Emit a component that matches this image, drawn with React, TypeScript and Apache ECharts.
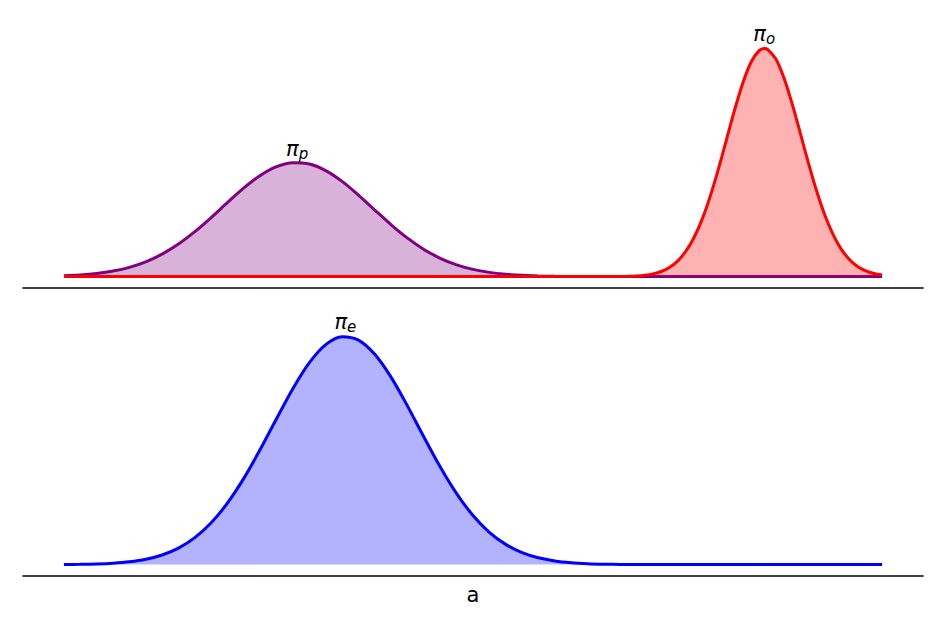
import React, { useEffect, useRef } from "react";
import * as echarts from "echarts";

const xs = [0,0.2,0.4,0.6,0.8,1,1.2,1.4,1.6,1.8,2,2.2,2.4,2.6,2.8,3,3.2,3.4,3.6,3.8,4,4.2,4.4,4.6,4.8,5,5.2,5.4,5.6,5.8,6,6.2,6.4,6.6,6.8,7,7.2,7.4,7.6,7.8,8,8.2,8.4,8.6,8.8,9,9.2,9.4,9.6,9.8,10];

const piP = [0.0039,0.0075,0.0139,0.0243,0.0406,0.0648,0.0984,0.1424,0.1967,0.2588,0.3248,0.3885,0.4431,0.4817,0.4993,0.4933,0.4647,0.4174,0.3573,0.2917,0.2270,0.1684,0.1191,0.0803,0.0516,0.0316,0.0185,0.0103,0.0055,0.0028,0.0013,0.0006,0.0003,0.0001,0,0,0,0,0,0,0,0,0,0,0,0,0,0,0,0,0];

const xsO = [0,6,6.4,6.5,6.6,6.7,6.8,6.9,7,7.1,7.2,7.3,7.4,7.5,7.6,7.7,7.8,7.9,8,8.1,8.2,8.3,8.4,8.5,8.56,8.6,8.7,8.8,8.9,9,9.1,9.2,9.3,9.4,9.5,9.6,9.7,9.8,9.9,10];

const piO = [0,0,0.0000,0.0000,0.0001,0.0003,0.0006,0.0014,0.0029,0.0061,0.0119,0.0224,0.0399,0.0679,0.1101,0.1702,0.2509,0.3525,0.4720,0.6026,0.7332,0.8506,0.9405,0.9914,1.0,0.9962,0.9542,0.8712,0.7582,0.6291,0.4975,0.3751,0.2696,0.1847,0.1206,0.0751,0.0446,0.0252,0.0136,0.0070];

const piE = [0.0006,0.0013,0.0029,0.0062,0.0123,0.0233,0.0421,0.0723,0.1180,0.1831,0.2701,0.3789,0.5052,0.6406,0.7722,0.8850,0.9643,0.9990,0.9840,0.9215,0.8204,0.6945,0.5589,0.4277,0.3111,0.2152,0.1415,0.0885,0.0526,0.0297,0.0160,0.0082,0.0040,0.0018,0.0008,0.0003,0.0001,0,0,0,0,0,0,0,0,0,0,0,0,0,0];

const peakX = { p: 2.85, o: 8.56, e: 3.44 };
const peakY = { p: 0.5, o: 1.0, e: 1.0 };
const subs = { p: "p", o: "o", e: "e" };
const xLabel = "a";

const FONT = "DejaVu Sans";

function pairs(xv: number[], vals: number[]) {
  return xv.map((x, i) => [x, vals[i]]);
}

function curve(name: "p" | "o" | "e", xv: number[], vals: number[], color: string, fill: string, idx: number) {
  return {
    type: "line",
    name: "pi_" + name,
    xAxisIndex: idx,
    yAxisIndex: idx,
    data: pairs(xv, vals),
    smooth: 0.3,
    showSymbol: false,
    symbol: "none",
    lineStyle: { color, width: 3 },
    areaStyle: { color: fill, opacity: 1, origin: 0 },
    z: name === "o" ? 3 : 2,
    markPoint: {
      symbol: "circle",
      symbolSize: 0,
      data: [{ coord: [peakX[name], peakY[name]] }],
      label: {
        show: true,
        position: "top",
        distance: 2,
        formatter: "{pi|π}{sub|" + subs[name] + "}",
        rich: {
          pi: { fontFamily: FONT, fontSize: 21, fontStyle: "italic", color: "#000", lineHeight: 24 },
          sub: { fontFamily: FONT, fontSize: 15, fontStyle: "italic", color: "#000", lineHeight: 24, padding: [10, 0, 0, 0] },
        },
      },
    },
  };
}

export default function App() {
  const ref = useRef<HTMLDivElement>(null);
  useEffect(() => {
    if (!ref.current) return;
    const chart = echarts.init(ref.current, null, { renderer: "svg" });
    const xAxisBase = {
      type: "value",
      min: -0.5,
      max: 10.5,
      axisLine: { show: true, onZero: false, lineStyle: { color: "#000", width: 1.6 } },
      axisTick: { show: false },
      axisLabel: { show: false },
      splitLine: { show: false },
    };
    const yAxisBase = {
      type: "value",
      min: -0.05,
      max: 1.05,
      axisLine: { show: false },
      axisTick: { show: false },
      axisLabel: { show: false },
      splitLine: { show: false },
    };
    chart.setOption({
      animation: false,
      backgroundColor: "#fff",
      grid: [
        { left: 23, width: 900, top: 37, height: 251 },
        { left: 23, width: 900, top: 325, height: 251 },
      ],
      xAxis: [
        { ...xAxisBase, gridIndex: 0 },
        {
          ...xAxisBase,
          gridIndex: 1,
          name: xLabel,
          nameLocation: "middle",
          nameGap: 8,
          nameTextStyle: { fontFamily: FONT, fontSize: 21, color: "#000", verticalAlign: "top" },
        },
      ],
      yAxis: [
        { ...yAxisBase, gridIndex: 0 },
        { ...yAxisBase, gridIndex: 1 },
      ],
      series: [
        curve("p", xs, piP, "#800080", "rgba(128,0,128,0.3)", 0),
        curve("o", xsO, piO, "#ff0000", "rgba(255,0,0,0.3)", 0),
        curve("e", xs, piE, "#0000ff", "rgba(0,0,255,0.3)", 1),
      ],
    });
    return () => chart.dispose();
  }, []);
  return (
    <div
      ref={ref}
      style={{ position: "fixed", left: 0, top: 0, width: 947, height: 631, background: "#fff" }}
    />
  );
}
